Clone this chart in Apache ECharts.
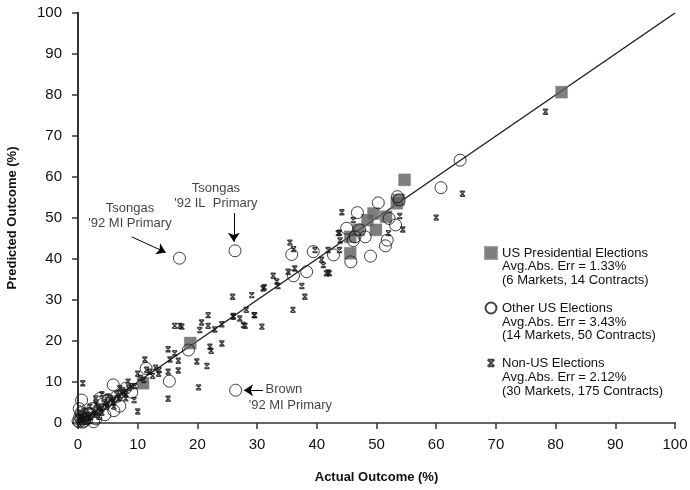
<!DOCTYPE html>
<html><head><meta charset="utf-8">
<script src="https://cdn.jsdelivr.net/npm/echarts@6/dist/echarts.min.js"></script>
<style>html,body{margin:0;padding:0;background:#fff}#c{width:690px;height:490px}</style>
</head><body><div id="c"></div>
<script>
const axisMin = 0, axisMax = 100, axisStep = 10;
const seriesNames = ['US Presidential Elections', 'Other US Elections', 'Non-US Elections'];
const legendDetail = [
  ['Avg.Abs. Err = 1.33%', '(6 Markets, 14 Contracts)'],
  ['Avg.Abs. Err = 3.43%', '(14 Markets, 50 Contracts)'],
  ['Avg.Abs. Err = 2.12%', '(30 Markets, 175 Contracts)']
];
// [actual, predicted]
const usPresidential = [
  [81,80.7],[54.7,59.3],[49.5,51.1],[48.5,49.5],[51.6,50.3],[49.9,47.1],[53.4,53.6],
  [53.7,54.4],[47,47.1],[45.6,45.4],[45.6,41.4],[18.8,19.5],[10.9,9.7],[0.5,1]
];
const otherUS = [
  [64,64.1],[60.8,57.4],[50.3,53.7],[46.8,51.3],[53.5,55.2],[53.8,54.4],[52.1,49.9],[53.2,48.3],
  [51.8,44.6],[51.5,43.2],[49,40.7],[48.1,45.4],[46.4,45.4],[46.1,44.5],[45.7,39.3],[45,47.5],
  [42.8,41],[39.4,41.8],[38.3,36.9],[47.2,47.1],[35.8,41.1],[36.1,35.9],[17,40.2],[26.3,42],
  [26.4,8],[11.4,13.3],[15.3,10.2],[18.5,17.8],[5.9,9.3],[0.6,5.6],[3.7,6],[7,4.1],[2.6,0.3],
  [0,0.5],[0.3,1.5],[0.5,2.5],[1,0.5],[1.5,1],[0.2,3.5],[1.8,2.2],[2.5,3.5],[3,1],[4,4.5],
  [4.5,2],[5,5.5],[6,3],[6.5,6.5],[8,8.5],[9,7.5],[0.8,0.2],[1.2,1.8],[0.2,0.3]
];
const nonUS = [
  [78.3,75.9],[64.4,55.9],[60,50.1],
  [44.2,51.4],[46.1,49.5],[53.9,50.5],[54.4,47.2],[52,46.3],[43.8,46.4],[43.9,44.5],[43.8,42.2],
  [39.7,42.2],[41.9,42.2],[40.8,39.8],[41.1,38.5],[41.9,36.7],[37.5,33.4],[38,30.8],
  [35.5,44],[36.1,42.4],[36.3,37.7],[35.2,36.9],[36,27.6],[33.5,33.4],[32.7,35.9],[33.3,34.5],
  [31,32.8],[29.1,31.2],[25.9,30.8],[28.2,27.6],[29.6,26.3],[26,25.9],[27.1,25.5],[27.7,23.9],
  [30.8,23.5],[24.1,24.1],[21.8,26.3],[20.7,24.5],[21.8,23.7],[20.4,22.7],[17.4,23.5],[22.9,22.8],
  [41.6,36.5],[43.6,46.3],[31.2,33.1],[42.1,36.5],
  [16.2,23.7],[17.1,23.7],[24.1,19.4],[22.1,18.6],[22.3,17.6],[19.9,15],[21.6,13.9],[20.2,8.7],
  [15.1,18],[16.2,17],[16.8,15.2],[15.4,15.5],[16.8,12.8],[15.1,12.5],[13.6,12.9],[15.1,5.9],
  [11.2,15.5],[10,2.8],[9.4,5.6],[8.4,10.1],[0.8,9.7],[28,23.7],[29.5,26.3],[26,26.1],
  [1,1],[1.5,2],[2,1.5],[2.5,3],[3,2.5],[3.5,4],[4,3.5],[4.5,5],[5,4.5],[5.5,6],[6,5.5],[6.5,7],
  [7,6.5],[7.5,8],[8,7],[8.5,8.5],[9,9],[9.5,9],[3,4.5],[4,2.5],[5,6.5],[6,4],[7,8.5],[8,6],
  [2,0.5],[0.5,1.5],[0.3,0.2],[1.2,0.3],[0.2,2.5],[3.5,1.5],[10.5,11],[11,10.5],[12,12.5],
  [12.5,11.5],[13,13.5],[10,12],[11.5,13],[13.5,12],
  [0.5,0.8],[1.8,1.2],[2.8,2],[3.8,3],[4.8,4],[5.8,5],[6.8,6],[7.8,7.5],[1,3],[2,4],[3,6],[4,7]
];
const diagonal = [[0,0],[100,100]];
// annotation texts: [x, y, text, align]
const notes = [
  [8.7, 50.4, 'Tsongas\n\'92 MI Primary', 'center'],
  [23.1, 55.4, 'Tsongas\n\'92 IL  Primary', 'center'],
  [31.4, 8.3, 'Brown', 'left'],
  [28.6, 4.4, '\'92 MI Primary', 'left']
];
// arrows: [x0, y0, x1, y1]
const arrows = [
  [9.0, 45.4, 14.7, 41.6],
  [26.1, 51.2, 26.1, 44.2],
  [31.0, 8.0, 27.8, 8.0]
];

const FONT = 'Liberation Sans, Arial, Helvetica, sans-serif';
const chart = echarts.init(document.getElementById('c'), null, {renderer: 'canvas'});
const star = 'path://M0,0L10,0M0,10L10,10M0,0L10,10M10,0L0,10';
const starIcon = 'path://M-4,-4M14,14M0,0L10,0M0,10L10,10M0,0L10,10M10,0L0,10';
const circleIcon = 'path://M-1,-1M21,21M20,10A10,10,0,1,1,0,10A10,10,0,1,1,20,10Z';

const graphics = [];
legendDetail.forEach((lines, i) => {
  lines.forEach((t, j) => {
    graphics.push({type: 'text', left: 502, top: 260 + i * 55.5 + j * 13.5,
      style: {text: t, font: '13px ' + FONT, fill: '#111'}});
  });
});

chart.setOption({
  animation: false,
  backgroundColor: '#fff',
  textStyle: {fontFamily: FONT},
  grid: {left: 78, right: 15, top: 13, bottom: 67, outerBoundsMode: 'none', containLabel: false},
  xAxis: [{
    type: 'value', min: axisMin, max: axisMax, interval: axisStep,
    name: 'Actual Outcome (%)', nameLocation: 'middle', nameGap: 48,
    nameTextStyle: {fontWeight: 'bold', fontSize: 13, color: '#111', fontFamily: FONT},
    axisLine: {lineStyle: {color: '#333', width: 2}},
    axisTick: {show: true, inside: false, length: 6, lineStyle: {color: '#333', width: 1.5}},
    axisLabel: {fontSize: 15, color: '#111', margin: 14, fontFamily: FONT},
    splitLine: {show: false}
  }, {
    type: 'value', min: axisMin, max: axisMax, position: 'top',
    axisLine: {show: true, lineStyle: {color: '#777', width: 1.5}},
    axisTick: {show: false}, axisLabel: {show: false}, splitLine: {show: false}
  }],
  yAxis: [{
    type: 'value', min: axisMin, max: axisMax, interval: axisStep,
    name: 'Predicted Outcome (%)', nameLocation: 'middle', nameGap: 59,
    nameTextStyle: {fontWeight: 'bold', fontSize: 13, color: '#111', fontFamily: FONT},
    axisLine: {show: true, lineStyle: {color: '#333', width: 2}},
    axisTick: {show: true, inside: false, length: 6, lineStyle: {color: '#333', width: 1.5}},
    axisLabel: {fontSize: 15, color: '#111', margin: 16, fontFamily: FONT},
    splitLine: {show: false}
  }, {
    type: 'value', min: axisMin, max: axisMax, position: 'right',
    axisLine: {show: true, lineStyle: {color: '#333', width: 2}},
    axisTick: {show: false}, axisLabel: {show: false}, splitLine: {show: false}
  }],
  legend: {
    data: [{name: seriesNames[0]}, {name: seriesNames[1], icon: circleIcon}, {name: seriesNames[2], icon: starIcon}],
    orient: 'vertical', left: 484, top: 246, padding: 0, itemGap: 41,
    itemWidth: 12, itemHeight: 12,
    textStyle: {fontSize: 13, color: '#111', fontFamily: FONT}
  },
  graphic: graphics,
  series: [
    {type: 'line', data: diagonal, symbol: 'none', silent: true,
     lineStyle: {color: '#222', width: 1.5}, z: 1},
    {name: seriesNames[1], type: 'scatter', data: otherUS, symbol: 'circle', symbolSize: 12,
     itemStyle: {color: 'rgba(255,255,255,0)', borderColor: '#111', borderWidth: 1}, z: 3},
    {name: seriesNames[2], type: 'scatter', data: nonUS, symbol: star, symbolSize: [5, 5],
     itemStyle: {color: 'rgba(0,0,0,0)', borderColor: '#111', borderWidth: 1.4}, z: 4},
    {name: seriesNames[0], type: 'scatter', data: usPresidential, symbol: 'rect', symbolSize: 12,
     itemStyle: {color: '#5e5e5e', borderColor: '#888', borderWidth: 0.5}, z: 2},
    {type: 'lines', coordinateSystem: 'cartesian2d', symbol: ['none', 'arrow'], symbolSize: 9,
     lineStyle: {color: '#000', width: 1, opacity: 1}, silent: true, z: 5,
     data: arrows.map(a => ({coords: [[a[0], a[1]], [a[2], a[3]]]}))},
    {type: 'scatter', symbolSize: 0, silent: true, z: 6,
     data: notes.map(n => ({value: [n[0], n[1]], label: {formatter: n[2], align: n[3]}})),
     label: {show: true, position: 'inside', color: '#111', fontSize: 13, lineHeight: 15,
             verticalAlign: 'middle', fontFamily: FONT}}
  ]
});
</script></body></html>
